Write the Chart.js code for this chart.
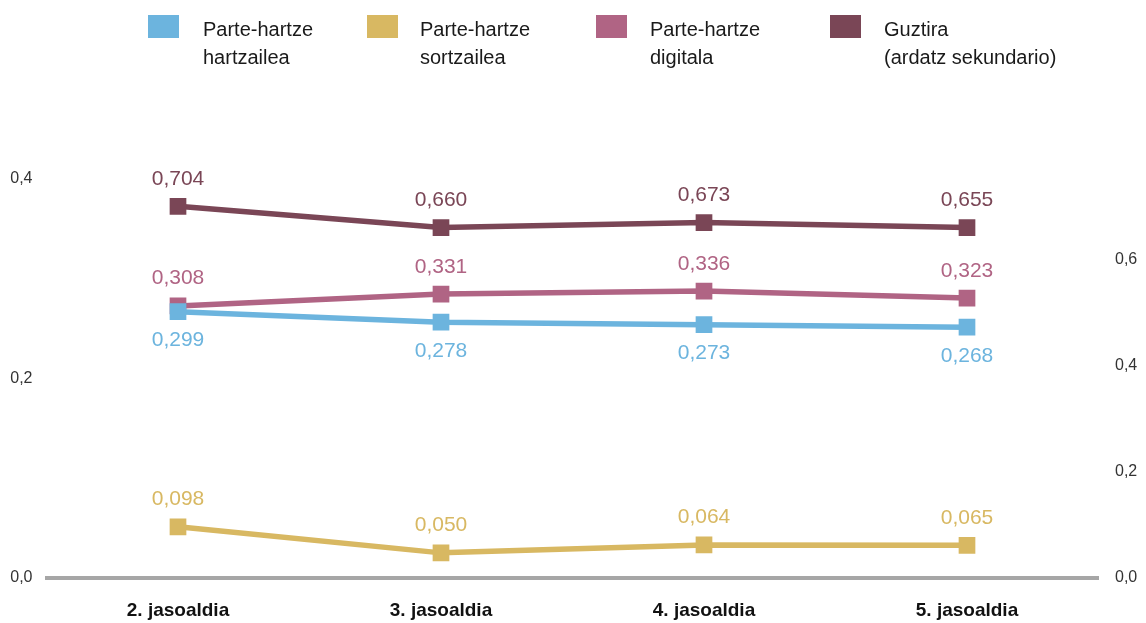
<!DOCTYPE html>
<html><head><meta charset="utf-8">
<script src="https://cdn.jsdelivr.net/npm/chart.js@4.4.1/dist/chart.umd.min.js"></script>
<style>
html,body{margin:0;padding:0;background:#fff;}
#wrap{position:relative;width:1146px;height:623px;overflow:hidden;}
canvas{position:absolute;left:0;top:0;}
.lg-box{position:absolute;top:15px;width:31px;height:23px;}
.lg-text{position:absolute;top:15px;font:20px/28px "Liberation Sans",Arial,sans-serif;color:#1a1a1a;white-space:nowrap;}
</style></head>
<body><div id="wrap"><canvas id="c" width="1146" height="623"></canvas><div id="legend"></div></div>
<script>
// ---- data ----
const categories = ['2. jasoaldia', '3. jasoaldia', '4. jasoaldia', '5. jasoaldia'];
const seriesNames = [
  ['Parte-hartze', 'hartzailea'],
  ['Parte-hartze', 'sortzailea'],
  ['Parte-hartze', 'digitala'],
  ['Guztira', '(ardatz sekundario)']
];
// plotted positions
const hartzailea = [0.267, 0.2565, 0.254, 0.2515];
const sortzailea = [0.0513, 0.0252, 0.0332, 0.0328];
const digitala   = [0.2728, 0.2846, 0.2876, 0.2806];
const guztira    = [0.6996, 0.6595, 0.669, 0.6595];   // secondary axis
// printed value labels
const hartzaileaLabels = ['0,299', '0,278', '0,273', '0,268'];
const sortzaileaLabels = ['0,098', '0,050', '0,064', '0,065'];
const digitalaLabels   = ['0,308', '0,331', '0,336', '0,323'];
const guztiraLabels    = ['0,704', '0,660', '0,673', '0,655'];
// axis ticks
const leftTicks  = [0, 0.2, 0.4];
const rightTicks = [0, 0.2, 0.4, 0.6];

// ---- styles ----
const colors = ['#6cb4de', '#d8b862', '#b06484', '#7a4656'];
const FONT = '"Liberation Sans", Arial, sans-serif';

// legend (HTML)
const boxX = [148, 367, 596, 830];
const textX = [203, 420, 650, 884];
const lg = document.getElementById('legend');
seriesNames.forEach((n, i) => {
  const b = document.createElement('div');
  b.className = 'lg-box'; b.style.left = boxX[i] + 'px'; b.style.background = colors[i];
  lg.appendChild(b);
  const t = document.createElement('div');
  t.className = 'lg-text'; t.style.left = textX[i] + 'px';
  t.innerHTML = n[0] + '<br>' + n[1];
  lg.appendChild(t);
});

const labelSets = [hartzaileaLabels, sortzaileaLabels, digitalaLabels, guztiraLabels];
const labelBelow = [true, false, false, false];

const valueLabels = {
  id: 'valueLabels',
  afterDatasetsDraw(chart) {
    const ctx = chart.ctx;
    ctx.save();
    ctx.font = '21px ' + FONT;
    ctx.textAlign = 'center';
    ctx.textBaseline = 'alphabetic';
    chart.data.datasets.forEach((ds, di) => {
      const meta = chart.getDatasetMeta(di);
      ctx.fillStyle = colors[di];
      meta.data.forEach((pt, i) => {
        const cy = labelBelow[di] ? pt.y + 27 : pt.y - 29;
        ctx.fillText(labelSets[di][i], pt.x, cy + 7.5);
      });
    });
    ctx.restore();
  }
};

function mkDs(label, data, ci, axis) {
  return {
    label, data, yAxisID: axis,
    borderColor: colors[ci], backgroundColor: colors[ci],
    pointBackgroundColor: colors[ci], pointBorderWidth: 0,
    pointStyle: 'rect', pointRadius: 11.8, pointHoverRadius: 11.8,
    borderWidth: 5.5, tension: 0, fill: false
  };
}

const fmt = v => Number(v).toFixed(1).replace('.', ',');

new Chart(document.getElementById('c'), {
  type: 'line',
  data: {
    labels: categories,
    datasets: [
      mkDs(seriesNames[0].join(' '), hartzailea, 0, 'y'),
      mkDs(seriesNames[1].join(' '), sortzailea, 1, 'y'),
      mkDs(seriesNames[2].join(' '), digitala, 2, 'y'),
      mkDs(seriesNames[3].join(' '), guztira, 3, 'y1')
    ]
  },
  options: {
    responsive: false,
    devicePixelRatio: 1,
    animation: false,
    events: [],
    layout: { padding: { top: 179, left: 0, right: 0, bottom: 0 } },
    plugins: { legend: { display: false }, tooltip: { enabled: false } },
    scales: {
      x: {
        type: 'category', offset: true, position: 'bottom',
        grid: { display: false, drawTicks: false },
        border: { display: true, color: '#a6a6a6', width: 4 },
        ticks: { color: '#111', font: { family: FONT, size: 19, weight: 'bold' }, padding: 21.5, maxRotation: 0 },
        afterFit(s) { s.height = 45; }
      },
      y: {
        position: 'left', min: 0, max: 0.4,
        grid: { display: false, drawTicks: false }, border: { display: false },
        afterBuildTicks(s) { s.ticks = leftTicks.map(v => ({ value: v })); },
        ticks: { color: '#333', font: { family: FONT, size: 16 }, padding: 14, callback: fmt },
        afterFit(s) { s.width = 46.5; }
      },
      y1: {
        position: 'right', min: 0, max: 0.751,
        grid: { display: false, drawTicks: false }, border: { display: false },
        afterBuildTicks(s) { s.ticks = rightTicks.map(v => ({ value: v })); },
        ticks: { color: '#333', font: { family: FONT, size: 16 }, padding: 16.5, callback: fmt },
        afterFit(s) { s.width = 47.5; }
      }
    }
  },
  plugins: [valueLabels]
});
</script>
</body></html>
